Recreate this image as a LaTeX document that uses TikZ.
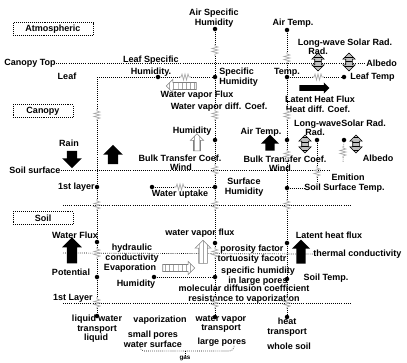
\documentclass[tikz,border=0pt]{standalone}
\usepackage{fontspec}
\setmainfont{Liberation Sans}
\usetikzlibrary{shapes.arrows,patterns}

\tikzset{
  res/.pic={
    \fill[white] (-1,-5) rectangle (1,5);
    \draw[gray!70,line width=.45pt] (0,-6)--(0,-4)--(3,-3)--(-3,-1.5)--(3,0)--(-3,1.5)--(3,3)--(0,4)--(0,6);
  }
}

\begin{document}
\begin{tikzpicture}[
  x=0.025cm, y=-0.025cm,
  lbl/.style={font=\fontsize{6.4}{7}\selectfont\bfseries, inner sep=0pt, align=center},
  dot/.style={circle, fill, inner sep=0pt, minimum size=3.2pt},
  link/.style={densely dotted, line width=.45pt},
  layer/.style={densely dotted, line width=.5pt},
  zone/.style={draw, densely dotted, lbl, minimum height=3.2mm},
  blkarrow/.style={single arrow, fill=black, inner sep=1.2mm, single arrow head extend=1.2mm, minimum height=#1},
  hollowarrow/.style={single arrow, draw=gray, line width=.4pt, preaction={fill=white}, pattern=vertical lines, pattern color=gray!70, inner sep=.8mm, single arrow head extend=.8mm, minimum height=#1},
  dblarrow/.style={double arrow, draw, line width=.4pt, fill=gray!50, postaction={pattern=horizontal lines}, shape border rotate=90, inner sep=.75mm, double arrow head extend=.7mm, minimum height=4.5mm}
]
\useasboundingbox (0,0) rectangle (407,362);

% zones
\node[zone, minimum width=20mm] (atm) at (53,29) {Atmospheric};
\node[zone, minimum width=15mm] (canopy) at (43,111) {Canopy};
\node[zone, minimum width=15mm] (soil) at (43,218) {Soil};

% state points
\node[dot] (m0) at (215,29) {};
\node[dot] (m1) at (215,77) {};
\node[dot] (m2) at (215,140) {};
\node[dot] (m3) at (215,187) {};
\node[dot] (m4) at (215,243) {};
\node[dot] (m5) at (215,277) {};
\node[dot] (m6) at (215,317) {};
\node[dot] (r0) at (287,30) {};
\node[dot] (r1) at (287,77) {};
\node[dot] (r2) at (287,140) {};
\node[dot] (r3) at (287,188) {};
\node[dot] (r4) at (287,243) {};
\node[dot] (r5) at (287,279) {};
\node[dot] (r6) at (287,317) {};
\coordinate (l0) at (97,77);
\node[dot] (l1) at (97,187) {};
\node[dot] (l2) at (97,242) {};
\node[dot] (l3) at (97,277) {};
\node[dot] (l4) at (97,316) {};
\node[dot] (leafhum) at (158,77) {};
\node[dot] (leaftemp) at (344,77) {};
\node[dot] (lw) at (317,140) {};
\node[dot] (alb) at (344,140) {};
\node[dot] (uptake) at (152,187) {};
\node[dot] (soilhum) at (154,277) {};
\coordinate (emit) at (317,183);
\coordinate (albend) at (343,162);

% labels
\node[lbl] (airsh) at (214,18) {Air Specific\\Humidity};
\node[lbl] (airt) at (293,23) {Air Temp.};
\node[lbl] (lwsr) at (345,43) {Long-wave Solar Rad.};
\node[lbl] (rad) at (318,51) {Rad.};
\node[lbl, anchor=west] (albedo) at (366,63) {Albedo};
\node[lbl] (canopytop) at (30,63) {Canopy Top};
\node[lbl] (leaf) at (67,76) {Leaf};
\node[lbl] (leafsh) at (151,66) {Leaf Specific\\[1.5pt]Humidity.};
\node[lbl, anchor=west, align=left] (spech) at (219,77) {Specific\\Humidity};
\node[lbl] (temp) at (287,72) {Temp.};
\node[lbl, anchor=west] (leaft) at (350,77) {Leaf Temp};
\node[lbl] (wvflux) at (197,95) {Water vapor Flux};
\node[lbl] (latent) at (320,99) {Latent Heat Flux};
\node[lbl] (wvdiff) at (219,107) {Water vapor diff. Coef.};
\node[lbl] (hdiff) at (318,109) {Heat diff. Coef.};
\node[lbl] (lwsr2) at (340,124) {Long-waveSolar Rad.};
\node[lbl] (rad2) at (315,132) {Rad.};
\node[lbl] (hum1) at (192,131) {Humidity};
\node[lbl] (airt2) at (261,132) {Air Temp.};
\node[lbl] (btc1) at (180,158) {Bulk Transfer Coef.};
\node[lbl] (wind1) at (181,167) {Wind};
\node[lbl] (btc2) at (285,159) {Bulk Transfer Coef.};
\node[lbl] (wind2) at (280,168) {Wind};
\node[lbl] (albedo2) at (378,158) {Albedo};
\node[lbl] (rain) at (69,143) {Rain};
\node[lbl] (soilsurf) at (35,170) {Soil surface};
\node[lbl] (emition) at (348,177) {Emition};
\node[lbl, anchor=east] (layer1) at (95,187) {1st layer};
\node[lbl] (wuptake) at (180,194) {Water uptake};
\node[lbl] (surfhum) at (244,187) {Surface\\Humidity};
\node[lbl, anchor=west] (sstemp) at (304,188) {Soil Surface Temp.};
\node[lbl] (wflux) at (75,235) {Water Flux};
\node[lbl] (wvflux2) at (200,233) {water vapor flux};
\node[lbl] (latent2) at (329,235) {Latent heat flux};
\node[lbl] (hydcond) at (132,253) {hydraulic\\conductivity};
\node[lbl] (porosity) at (252,254) {porosity factor\\tortuosity facotr};
\node[lbl, anchor=west] (thermal) at (313,254) {thermal conductivity};
\node[lbl] (evap) at (130,268) {Evaporation};
\node[lbl] (potential) at (71,272) {Potential};
\node[lbl] (hum2) at (136,284) {Humidity};
\node[lbl] (shlp) at (258,276) {specific humidity\\in large pores};
\node[lbl] (soiltemp) at (326,278) {Soil Temp.};
\node[lbl] (moldiff) at (244,294) {molecular diffusion coefficient\\resistance to vaporization};
\node[lbl] (layer1b) at (73,298) {1st Layer};
\node[lbl] (lwt) at (97,324) {liquid water\\transport};
\node[lbl] (vapz) at (160,320) {vaporization};
\node[lbl] (wvt) at (221,324) {water vapor\\transport};
\node[lbl] (ht) at (287,327) {heat\\transport};
\node[lbl] (liquid) at (96,338) {liquid};
\node[lbl] (spws) at (153,339) {small pores\\water surface};
\node[lbl] (lpores) at (222,342) {large pores};
\node[lbl] (wsoil) at (289,346) {whole soil};
\node[lbl, font=\fontsize{4.5}{5}\selectfont\bfseries] (gas) at (185,358) {gas};

% layer boundaries
\coordinate (ctend) at (364,63);
\coordinate (ssend) at (330,170);
\coordinate (b1w) at (63,205);
\coordinate (b1e) at (350,205);
\coordinate (b2w) at (63,253);
\coordinate (b3w) at (63,303);
\coordinate (b3e) at (350,303);
\draw[layer] (canopytop.east) -- (ctend);
\draw[layer] (soilsurf.east) -- (ssend);
\draw[layer] (b1w) -- (b1e);
\draw[layer] (b2w) -- (thermal.west);
\draw[layer] (b3w) -- (b3e);

% transport paths
\draw[link] (m0) -- (m1) -- (m2) -- (m3) -- (m4) -- (m5) -- (m6);
\draw[link] (r0) -- (r1) -- (r2) -- (r3) -- (r4) -- (r5) -- (r6);
\draw[link] (l0) -- (l1) -- (l2) -- (l3) -- (l4);
\draw[link] (l0) -- (leafhum) -- (m1);
\draw[link] (r1) -- (leaftemp);
\draw[link] (uptake) -- (m3);
\draw[link] (soilhum) -- (m5);
\draw[link] (lw) -- (emit);
\draw[link] (alb) -- (albend);
\draw[link] (r3) -- (sstemp.west);
\coordinate (gasjoin) at (185,351);
\draw[link, rounded corners=3pt] (140,345) |- (gasjoin) -| (234,345);
\draw[link] (gasjoin) -- (gas);

% resistances
\foreach \x/\y in {97/115, 97/205, 97/253, 97/303, 215/50, 215/115, 215/170, 215/205, 215/253, 215/303,
                   287/58, 287/115, 287/155, 287/205, 287/303, 317/172, 343/152}
  \pic at (\x,\y) {res};
\foreach \x/\y in {185/77, 318/77, 180/187}
  \pic[rotate=90] at (\x,\y) {res};

% fluxes
\node[dblarrow] (rad1a) at (318,62) {};
\node[dblarrow] (rad1b) at (349,62) {};
\node[dblarrow] (rad2a) at (305,144) {};
\node[dblarrow] (rad2b) at (356,144) {};
\node[blkarrow=7.5mm, inner sep=.65mm, single arrow head extend=.7mm] (lhfarr) at (313,88) {};
\node[blkarrow=4.3mm, shape border rotate=270] (rainarr) at (72,157) {};
\node[blkarrow=4.8mm, shape border rotate=90] (uparr) at (113,157) {};
\node[blkarrow=4mm, shape border rotate=90, inner sep=1.1mm, single arrow head extend=1.1mm] (airtarr) at (270,145) {};
\node[blkarrow=6.5mm, shape border rotate=90] (wfarr) at (72,253) {};
\node[blkarrow=6mm, shape border rotate=90, inner sep=1.1mm, single arrow head extend=1.1mm] (lhfarr2) at (301,254) {};
\node[hollowarrow=7.5mm, shape border rotate=180] (wvarr) at (183,86) {};
\node[hollowarrow=4.3mm, shape border rotate=90] (humarr) at (197,144) {};
\node[hollowarrow=5.8mm, shape border rotate=90, inner sep=1mm, single arrow head extend=.9mm] (soilarr) at (203,254) {};
\node[hollowarrow=8mm] (evaparr) at (177,268) {};
\end{tikzpicture}
\end{document}
